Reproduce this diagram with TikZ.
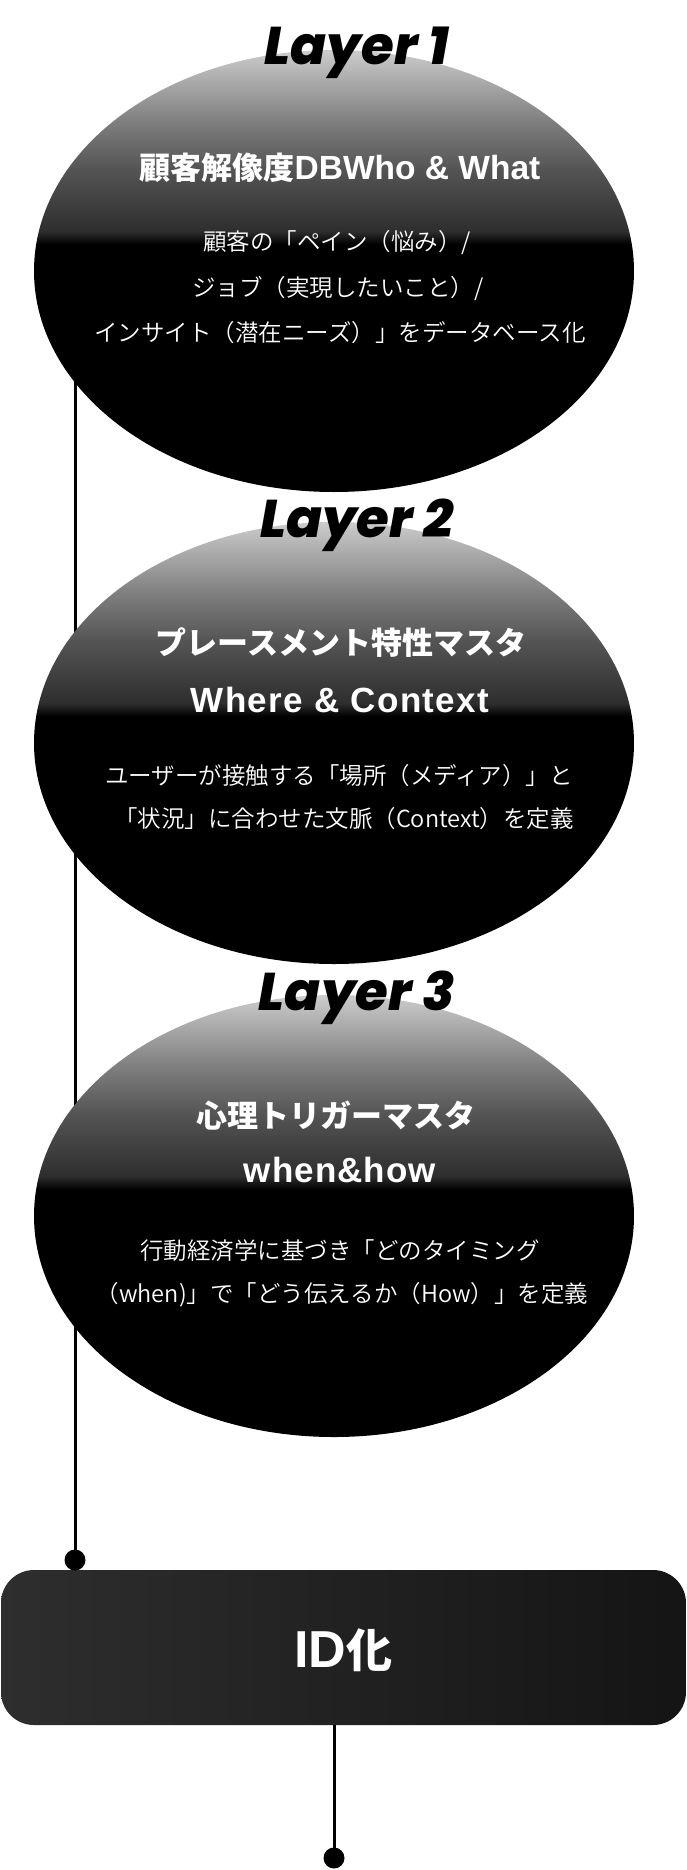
\documentclass[tikz,border=0pt]{standalone}
\usepackage{fontspec}
\usetikzlibrary{shapes.geometric,backgrounds}
\newfontfamily\jpfont{Noto Sans CJK JP}
\IfFontExistsTF{Noto Sans CJK JP DemiLight}{\newfontfamily\jplight{Noto Sans CJK JP DemiLight}}{\newfontfamily\jplight{Noto Sans CJK JP}}
\newfontfamily\latfont{Liberation Sans}
\IfFontExistsTF{Poppins ExtraBold Italic}{\newfontfamily\layerfont{Poppins ExtraBold Italic}}{\newfontfamily\layerfont[UprightFont={* Bold Italic}]{Poppins}}
\pgfdeclareverticalshading{ellshade}{100bp}{color(0bp)=(black); color(53bp)=(black); color(54.5bp)=(black!82); color(61.5bp)=(black!67); color(67bp)=(black!50); color(75bp)=(black!20); color(100bp)=(black!20)}
\newcommand{\lat}[2]{{\latfont\bfseries\fontsize{#1}{#1}\selectfont #2}}
\newcommand{\latsp}[3]{{\latfont\bfseries\fontsize{#1}{#1}\selectfont\addfontfeatures{LetterSpace=#2}#3}}
\tikzset{
  layerball/.style={ellipse, minimum width=600pt, minimum height=442pt, inner sep=0pt, shade, shading=ellshade},
  layerlabel/.style={font=\layerfont\fontsize{53}{53}\selectfont, anchor=base, inner sep=0pt, text=black},
  titletext/.style={font=\jpfont\bfseries\fontsize{31}{31}\selectfont, text=white, anchor=base, inner sep=0pt},
  bodytext/.style={font=\jplight\fontsize{23.5}{23.5}\selectfont, text=white, anchor=base, inner sep=0pt},
  idbox/.style={rectangle, rounded corners=33pt, minimum width=685pt, minimum height=155pt, inner sep=0pt, left color=black!82, right color=black!92},
  idtext/.style={font=\jpfont\bfseries\fontsize{46}{46}\selectfont, text=white, anchor=base, inner sep=0pt},
  enddot/.style={circle, fill=black, minimum size=21pt, inner sep=0pt},
  wire/.style={line width=3pt, black}
}
\begin{document}
\begin{tikzpicture}[x=1pt,y=-1pt]
\useasboundingbox (0,0) rectangle (686,1870);
\begin{pgfonlayer}{background}
\fill[white] (0,0) rectangle (686,1870);
\end{pgfonlayer}
% ellipses
\node[layerball] (e1) at (334,271) {};
\node[layerball] (e2) at (334,743) {};
\node[layerball] (e3) at (334,1216) {};
% layer labels
\node[layerlabel] (l1) at (357,65) {Layer 1};
\node[layerlabel] (l2) at (357,537) {Layer 2};
\node[layerlabel] (l3) at (357,1010) {Layer 3};
% layer 1 text
\node[titletext] (t1) at (340,180) {顧客解像度\lat{33.5}{DBWho \& What}};
\node[bodytext] (b1a) at (337,251) {顧客の「ペイン（悩み）/};
\node[bodytext] (b1b) at (338,296) {ジョブ（実現したいこと）/};
\node[bodytext] (b1c) at (340,341) {インサイト（潜在ニーズ）」をデータベース化};
% layer 2 text
\node[titletext] (t2a) at (341,654) {プレースメント特性マスタ};
\node[titletext] (t2b) at (340,712) {\latsp{35}{4}{Where \& Context}};
\node[bodytext] (b2a) at (339,784) {ユーザーが接触する「場所（メディア）」と};
\node[bodytext] (b2b) at (344,827) {「状況」に合わせた文脈（Context）を定義};
% layer 3 text
\node[titletext] (t3a) at (336,1127) {心理トリガーマスタ};
\node[titletext] (t3b) at (340,1182) {\latsp{35}{3}{when\&how}};
\node[bodytext] (b3a) at (340,1259) {行動経済学に基づき「どのタイミング};
\node[bodytext] (b3b) at (342,1302) {（when)」で「どう伝えるか（How）」を定義};
% ID box
\node[idbox] (id) at (343.5,1647.5) {};
\node[idtext] (idl) at (343,1667) {\lat{52}{ID}化};
% dots
\node[enddot] (d1) at (75,1560) {};
\node[enddot] (d2) at (334,1858) {};
% connectors
\begin{pgfonlayer}{background}
\draw[wire] (e1.center -| d1) -- (d1.center);
\end{pgfonlayer}
\draw[wire] (id.south -| d2) -- (d2.center);
\end{tikzpicture}
\end{document}
